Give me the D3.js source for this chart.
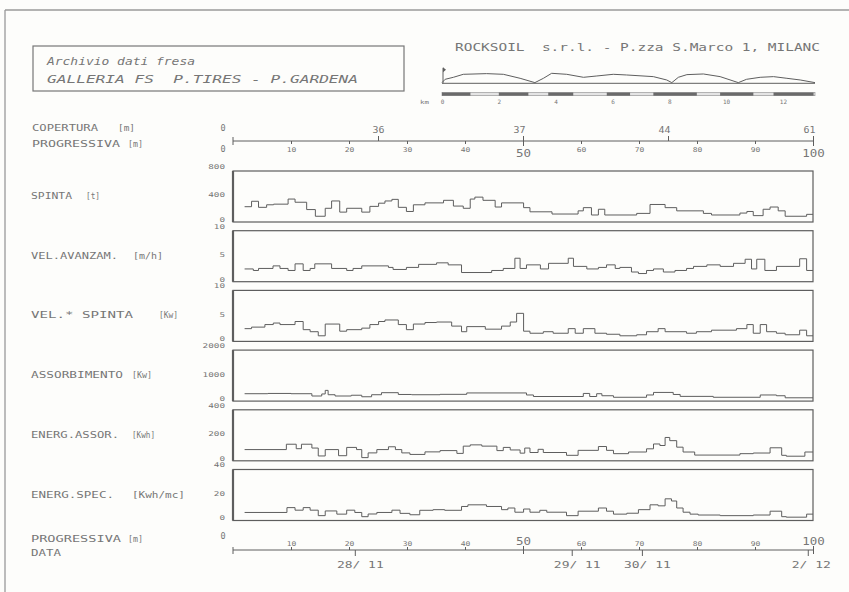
<!DOCTYPE html>
<html><head><meta charset="utf-8">
<script src="https://cdn.jsdelivr.net/npm/d3@7"></script>
<style>
html,body{margin:0;padding:0;background:#fdfdfb;}
svg{display:block;}
text{font-family:"DejaVu Sans Mono",monospace;white-space:pre;}
</style></head><body>
<svg id="c" width="849" height="592"></svg>
<script>
// ---------------- DATA ----------------
const titleLines = ["Archivio dati fresa", "GALLERIA FS  P.TIRES - P.GARDENA"];
const companyText = "ROCKSOIL  s.r.l. - P.zza S.Marco 1, MILANC";

const progTicks = [10,20,30,40,50,60,70,80,90,100];
const covTickPos = [25,50,75,100];
const covTickLabels = ["36","37","44","61"];
const dateTickPos = [21,58.4,70.5,99.1];
const dateTickLabels = ["28/ 11","29/ 11","30/ 11","2/ 12"];

const panelNames = ["SPINTA","VEL.AVANZAM.","VEL.* SPINTA","ASSORBIMENTO","ENERG.ASSOR.","ENERG.SPEC."];
const panelUnits = ["[t]","[m/h]","[Kw]","[Kw]","[Kwh]","[Kwh/mc]"];
const panelTicks = [[0,400,800],[0,5,10],[0,5,10],[0,1000,2000],[0,200,400],[0,20,40]];

// step series: start progressive (m) of each step, and value
const spintaX = [2.0,3.2,4.4,5.8,7.0,9.5,10.7,12.7,14.2,15.9,17.0,18.4,19.6,22.2,23.6,25.1,26.2,27.4,28.5,29.9,31.1,33.1,36.3,38.0,39.7,40.9,41.7,43.1,45.2,46.3,50.1,51.2,55.0,59.5,60.4,61.8,63.0,64.1,69.6,71.9,74.5,76.5,81.1,82.5,87.4,88.6,89.7,91.4,92.6,94.0,95.2,98.9];
const spintaY = [240,325,230,270,280,360,310,195,90,215,330,155,215,155,245,295,330,355,230,165,270,300,340,250,215,360,390,340,235,300,225,160,125,175,225,110,200,110,135,275,225,175,135,110,140,165,100,200,235,175,90,120];

const velAvX = [2.0,3.5,4.4,6.9,8.1,9.5,10.7,12.1,13.3,14.1,17.0,19.6,20.7,22.2,26.8,27.6,29.9,32.0,35.1,37.1,39.4,44.6,46.6,48.6,49.5,50.6,53.0,54.4,57.8,58.7,61.0,63.0,64.4,65.9,66.7,68.7,69.9,71.3,72.5,74.2,76.2,78.2,79.4,81.7,84.0,86.3,88.3,89.4,90.3,91.7,93.7,97.7,98.9];
const velAvY = [2.5,2.2,2.6,3.1,2.6,2.2,3.5,2.2,2.6,3.5,2.6,2.2,2.6,3.1,2.8,2.4,2.8,3.4,3.7,3.3,1.8,2.2,2.6,4.6,2.6,3.3,2.5,3.6,4.6,3.0,2.5,2.8,3.3,2.6,2.8,1.9,1.6,2.2,2.5,1.9,2.2,2.6,3.0,3.3,3.0,3.6,4.4,2.5,4.4,2.2,3.0,4.5,2.2];

const velSpX = [2.0,3.2,5.5,6.95,8.1,10.7,12.1,13.3,14.7,15.9,18.4,19.6,22.2,23.6,25.1,26.2,28.5,29.9,31.1,33.1,35.1,37.7,39.4,40.3,43.5,46.3,47.8,48.9,50.1,51.2,53.5,55.2,57.8,59.0,60.4,62.4,64.4,66.7,69.6,71.3,73.3,74.5,78.2,79.9,82.5,86.8,88.6,89.7,90.9,92.0,93.7,95.2,97.7,98.9];
const velSpY = [2.5,2.8,3.3,3.6,3.3,3.9,2.3,1.9,1.1,3.4,2.0,2.3,2.6,3.3,3.9,4.2,3.3,2.3,3.4,3.7,3.8,3.0,1.9,2.9,2.4,3.0,3.8,5.5,2.0,1.6,1.9,1.6,2.5,1.6,2.5,1.6,1.4,1.1,1.3,1.9,2.5,1.9,1.6,1.9,2.2,2.5,3.3,1.6,3.3,1.9,1.6,1.3,2.2,1.1];

const assX = [2.0,6.0,10.0,13.6,15.3,15.9,16.4,17.6,20.4,22.2,23.9,25.6,28.5,30.8,35.7,40.3,50.6,51.8,60.4,61.5,62.7,63.6,65.6,71.3,72.5,75.9,77.1,82.8,90.9,93.7,95.2];
const assY = [290,300,290,200,280,420,250,200,230,170,250,330,260,250,265,320,240,180,300,180,290,210,150,240,340,260,185,150,240,210,130];

const enAsX = [2.0,9.2,10.9,11.8,13.6,14.7,15.9,18.2,19.6,21.3,22.2,23.3,24.8,26.8,28.0,29.1,30.5,33.1,35.7,38.6,39.7,40.9,42.9,45.5,46.6,47.8,49.5,50.3,51.2,52.6,53.5,57.5,59.5,63.0,64.4,65.6,68.2,71.3,72.5,73.6,74.5,75.3,76.5,77.6,79.6,87.4,89.7,92.6,94.6,95.4,98.6];
const enAsY = [88,130,95,130,100,38,88,40,105,88,25,62,88,110,88,62,50,70,80,58,115,125,115,80,105,85,60,100,65,90,65,43,82,112,82,56,69,94,132,120,183,158,107,69,45,56,61,102,43,36,69];

const enSpX = [2.0,9.3,10.7,12.1,13.3,14.7,15.9,17.9,19.6,21.0,22.2,23.3,24.8,27.4,28.8,30.5,32.2,34.5,36.5,39.4,40.5,43.7,46.3,47.4,48.6,50.1,51.2,52.9,54.1,57.5,59.5,63.0,64.4,65.6,67.9,69.9,71.9,73.3,74.5,75.6,76.5,77.6,78.8,80.2,84.0,89.7,92.6,94.6,95.4,98.9];
const enSpY = [6.3,10.1,8.1,10.1,8.1,3.8,7.5,5.0,8.1,6.3,3.0,5.1,6.3,8.1,5.6,4.5,8.0,8.5,8.0,11.0,12.3,11.0,8.5,9.8,6.5,9.0,6.5,8.0,6.5,3.8,7.3,9.8,7.3,5.0,5.7,8.5,12.3,11.5,17.0,15.3,9.8,6.5,5.0,4.3,3.8,4.3,7.3,3.0,2.6,5.0];

// top-right longitudinal profile (km, cover height)
const profKm = [0,0.11,0.40,0.75,1.57,2.16,2.75,3.27,3.57,3.86,4.39,4.98,5.45,6.03,6.50,7.44,7.91,8.09,8.32,8.62,9.20,9.79,10.43,10.72,11.20,11.67,12.14,12.61,13.13];
const profH  = [27,160,240,360,387,360,200,27,200,400,360,240,293,360,333,267,133,27,240,347,373,267,27,160,240,267,200,133,27];
const kmTicks = [0,2,4,6,8,10,12];
const geoStart = [0,2.0,3.74,5.8,7.44,9.79,11.67];
const geoEnd   = [1.0,3.04,4.62,6.62,8.97,10.96,13.08];

// ---------------- DRAWING ----------------
const svg = d3.select("#c");
const ink = "#5e5e5e", txtc = "#767676";
svg.append("rect").attr("width",849).attr("height",592).attr("fill","#fdfdfb");

function label(x, y, s, size, w, opt) {
  opt = opt || {};
  const t = svg.append("text").attr("x", x).attr("y", y).text(s)
    .attr("font-size", size).attr("fill", txtc);
  if (w) t.attr("textLength", w).attr("lengthAdjust", "spacingAndGlyphs");
  if (opt.anchor) t.attr("text-anchor", opt.anchor);
  if (opt.italic) t.attr("font-style", "italic");
  return t;
}

// outer frame
svg.append("line").attr("x1",5).attr("y1",10).attr("x2",849).attr("y2",10).attr("stroke","#9a9a9a").attr("stroke-width",1.3);
svg.append("line").attr("x1",5).attr("y1",10).attr("x2",5).attr("y2",592).attr("stroke","#9a9a9a").attr("stroke-width",1.3);

// title box
svg.append("rect").attr("x",33).attr("y",46).attr("width",371).attr("height",45)
  .attr("fill","none").attr("stroke","#777").attr("stroke-width",1.2);
label(47, 64.5, titleLines[0], 11, 148, {italic:true});
label(47, 83, titleLines[1], 11, 311, {italic:true});

label(455, 51, companyText, 9.8, 365);

// ---- profile ----
const kmX = d3.scaleLinear().domain([0, 13.13]).range([442, 815]);
const hY = d3.scaleLinear().domain([0, 600]).range([83.3, 68.3]);
svg.append("line").attr("x1",kmX(0)).attr("x2",kmX(13.13)).attr("y1",hY(0)).attr("y2",hY(0)).attr("stroke",ink).attr("stroke-width",1);
svg.append("path").datum(profKm.map((k,i)=>[k,profH[i]]))
  .attr("d", d3.line().x(d=>kmX(d[0])).y(d=>hY(d[1])))
  .attr("fill","none").attr("stroke",ink).attr("stroke-width",1);
svg.append("line").attr("x1",kmX(0)+1).attr("x2",kmX(0)+1).attr("y1",hY(0)).attr("y2",hY(620)).attr("stroke",ink).attr("stroke-width",1);
svg.append("path").attr("d",`M${kmX(0)+1},${hY(640)} l3,2.5 l-3,2.5 z`).attr("fill",ink);
// geology bar
svg.append("rect").attr("x",kmX(0)).attr("y",92.5).attr("width",kmX(13.13)-kmX(0)).attr("height",3.2)
  .attr("fill","#e4e4e4").attr("stroke","#8a8a8a").attr("stroke-width",0.6);
svg.selectAll(".geo").data(geoStart).enter().append("rect")
  .attr("x",(d)=>kmX(d)).attr("width",(d,i)=>kmX(geoEnd[i])-kmX(d))
  .attr("y",92.5).attr("height",3.2).attr("fill","#6a6a6a");
const kmAxis = d3.axisBottom(kmX).tickValues(kmTicks).tickSize(0).tickPadding(0);
const gk = svg.append("g").attr("transform","translate(0,100)").call(kmAxis);
gk.select(".domain").remove();
gk.selectAll("text").attr("font-size",6).attr("fill",txtc).attr("dy",null).attr("y",4)
  .attr("font-family","DejaVu Sans Mono");
label(420, 103.5, "km", 5.5, 9);

// ---- main x scale ----
const xS = d3.scaleLinear().domain([0,100]).range([233, 813]);

// ---- top axis (copertura / progressiva) ----
const topY = 141;
const gTop = svg.append("g").attr("transform",`translate(0,${topY})`);
gTop.append("line").attr("x1",xS(0)).attr("x2",xS(100)).attr("stroke",ink).attr("stroke-width",1);
gTop.append("line").attr("x1",xS(0)).attr("x2",xS(0)).attr("y1",-4).attr("y2",4).attr("stroke",ink).attr("stroke-width",1);
const covAxis = d3.axisTop(xS).tickValues(covTickPos).tickFormat((d,i)=>covTickLabels[i]).tickSizeInner(5).tickSizeOuter(0).tickPadding(4);
const gc = gTop.append("g").call(covAxis);
gc.select(".domain").remove();
gc.selectAll("line").attr("stroke",ink);
gc.selectAll("text").attr("font-size",8.5).attr("fill",txtc).attr("font-family","DejaVu Sans Mono")
  .attr("dy",null).attr("y",-8).attr("x",(d)=>d===25?0:-4)
  .attr("textLength",12).attr("lengthAdjust","spacingAndGlyphs");
const progAxisT = d3.axisBottom(xS).tickValues(progTicks).tickFormat(d=>String(d)).tickSizeInner(3).tickSizeOuter(0);
const gp = gTop.append("g").call(progAxisT);
gp.select(".domain").remove();
gp.selectAll("line").attr("stroke",ink).attr("y1",d=>(d%50===0)?-4:0).attr("y2",d=>(d%50===0)?5:3);
gp.selectAll("text").attr("fill",txtc).attr("font-family","DejaVu Sans Mono").attr("dy",null)
  .attr("font-size",d=>(d%50===0)?10:6.5)
  .attr("y",d=>(d%50===0)?16:10.5)
  .attr("textLength",d=>(d%50===0)?String(d).length*7.5:String(d).length*4.8)
  .attr("lengthAdjust","spacingAndGlyphs");
label(223, 131, "0", 8.5, null, {anchor:"middle"});
label(223, 152, "0", 8.5, null, {anchor:"middle"});

// left captions for top axis
label(32, 130.5, "COPERTURA", 9.5, 66);
label(118, 130.5, "[m]", 9.5, 17);
label(32, 146.5, "PROGRESSIVA", 9.5, 88);
label(128, 146.5, "[m]", 9.5, 15);

// ---- panels ----
const panelH = 51, panelTop0 = 171, panelStep = 59.7;
const seriesX = [spintaX, velAvX, velSpX, assX, enAsX, enSpX];
const seriesY = [spintaY, velAvY, velSpY, assY, enAsY, enSpY];
const nameW = [41, 87, 102, 92, 88, 83];
const unitX = [86, 133, 159, 132, 132, 132];
const unitW = [14, 30, 19, 20, 23, 53];

panelTicks.forEach((ticks, i) => {
  const top = panelTop0 + i*panelStep;
  const yS = d3.scaleLinear().domain([0, ticks[2]]).range([top+panelH, top]);
  const g = svg.append("g");
  g.append("rect").attr("x",xS(0)).attr("y",top).attr("width",xS(100)-xS(0)).attr("height",panelH)
    .attr("fill","none").attr("stroke",ink).attr("stroke-width",1.2);
  g.append("line").attr("x1",xS(0)).attr("x2",xS(0)).attr("y1",top).attr("y2",top+panelH)
    .attr("stroke",ink).attr("stroke-width",2.2);
  const ax = d3.axisLeft(yS).tickValues(ticks).tickFormat(d=>String(d)).tickSize(0).tickPadding(0);
  const ga = g.append("g").attr("transform","translate(225,0)").call(ax);
  ga.select(".domain").remove();
  ga.selectAll("text").attr("font-size",6.5).attr("fill",txtc).attr("font-family","DejaVu Sans Mono")
    .attr("dy",null).attr("y",(d,j)=>[-0.6,0.4,-2.6][j])
    .attr("textLength",d=>String(d).length*5.6).attr("lengthAdjust","spacingAndGlyphs");
  const pts = seriesX[i].map((x,k)=>[x, seriesY[i][k]]);
  pts.push([100, seriesY[i][seriesY[i].length-1]]);
  g.append("path").datum(pts)
    .attr("d", d3.line().x(d=>xS(d[0])).y(d=>yS(d[1])).curve(d3.curveStepAfter))
    .attr("fill","none").attr("stroke",ink).attr("stroke-width",1);
  const mid = top + panelH/2;
  label(31, mid + 2.5, panelNames[i], 9.5, nameW[i]);
  label(unitX[i], mid + 2.5, panelUnits[i], 9.5, unitW[i]);
});

// ---- bottom axis ----
const botY = 550;
const gBot = svg.append("g").attr("transform",`translate(0,${botY})`);
gBot.append("line").attr("x1",xS(0)).attr("x2",xS(100)).attr("stroke",ink).attr("stroke-width",1);
gBot.append("line").attr("x1",xS(0)).attr("x2",xS(0)).attr("y1",-3).attr("y2",4).attr("stroke",ink).attr("stroke-width",1);
const progAxisB = d3.axisTop(xS).tickValues(progTicks).tickFormat(d=>String(d)).tickSizeInner(3).tickSizeOuter(0);
const gpb = gBot.append("g").call(progAxisB);
gpb.select(".domain").remove();
gpb.selectAll("line").attr("stroke",ink).attr("y1",d=>(d%50===0)?4:0).attr("y2",d=>(d%50===0)?-4:-3);
gpb.selectAll("text").attr("fill",txtc).attr("font-family","DejaVu Sans Mono").attr("dy",null)
  .attr("font-size",d=>(d%50===0)?10:6.5)
  .attr("y",d=>(d%50===0)?-5:-4.5)
  .attr("textLength",d=>(d%50===0)?String(d).length*7.5:String(d).length*4.8)
  .attr("lengthAdjust","spacingAndGlyphs");
const dateAxis = d3.axisBottom(xS).tickValues(dateTickPos).tickFormat((d,i)=>dateTickLabels[i]).tickSizeInner(6).tickSizeOuter(0);
const gd = gBot.append("g").call(dateAxis);
gd.select(".domain").remove();
gd.selectAll("line").attr("stroke",ink);
gd.selectAll("text").attr("fill",txtc).attr("font-family","DejaVu Sans Mono").attr("dy",null)
  .attr("font-size",8.5).attr("y",17.5).attr("x",(d,i)=>i===3?3:5)
  .attr("textLength",(d,i)=>dateTickLabels[i].length*7.8).attr("lengthAdjust","spacingAndGlyphs");
label(223, 539, "0", 8.5, null, {anchor:"middle"});
label(31, 541.5, "PROGRESSIVA", 9.5, 90);
label(128, 541.5, "[m]", 9.5, 15);
label(31, 555.5, "DATA", 9.5, 30);
</script>
</body></html>
